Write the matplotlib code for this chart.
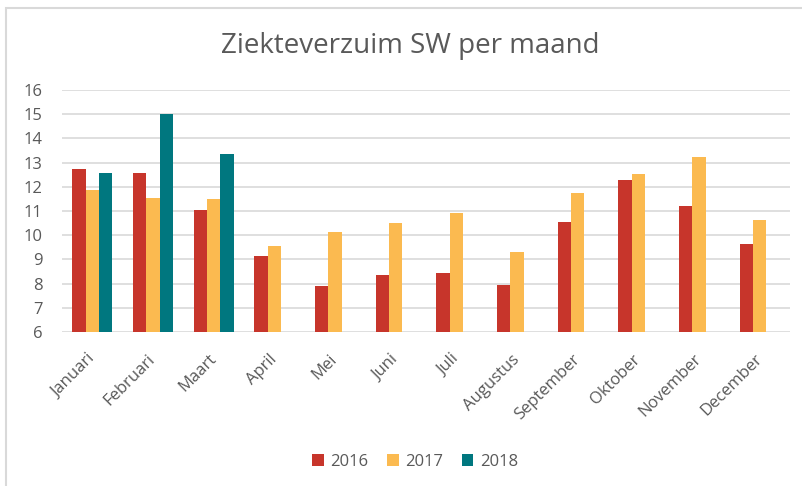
import numpy as np
import matplotlib.pyplot as plt
from matplotlib.patches import Rectangle

# data
maanden = ["Januari", "Februari", "Maart", "April", "Mei", "Juni", "Juli",
           "Augustus", "September", "Oktober", "November", "December"]
jaren = ["2016", "2017", "2018"]
v2016 = [12.74, 12.56, 11.05, 9.13, 7.91, 8.37, 8.45, 7.96, 10.55, 12.29, 11.21, 9.65]
v2017 = [11.85, 11.53, 11.49, 9.57, 10.11, 10.5, 10.9, 9.29, 11.74, 12.54, 13.22, 10.63]
v2018 = [12.56, 15.02, 13.36]

kleuren = ["#C7352B", "#FBBA50", "#00777F"]
grijs = "#595959"

plt.rcParams['font.family'] = ['Open Sans', 'DejaVu Sans']

fig = plt.figure(figsize=(8.03, 4.86), dpi=100)
ax = fig.add_axes([0.0772, 0.317, 0.9068, 0.498])

x = np.arange(len(maanden))
w = 0.22
ax.bar(x - w, v2016, w, color=kleuren[0], label=jaren[0], zorder=3)
ax.bar(x, v2017, w, color=kleuren[1], label=jaren[1], zorder=3)
ax.bar(x[:len(v2018)] + w, v2018, w, color=kleuren[2], label=jaren[2], zorder=3)

ax.set_ylim(6, 16)
ax.set_yticks(range(6, 17))
ax.set_xlim(-0.5, len(maanden) - 0.5)
ax.set_xticks(x)
ax.set_xticklabels(maanden, rotation=45, ha="right", va="center", rotation_mode="anchor")
ax.tick_params(axis="both", length=0, labelsize=12, labelcolor=grijs)
ax.tick_params(axis="x", pad=18)
ax.tick_params(axis="y", pad=14)
ax.grid(axis="y", color="#D9D9D9", linewidth=1.2, zorder=0)
for s in ax.spines.values():
    s.set_visible(False)

fig.text(0.511, 0.905, "Ziekteverzuim SW per maand", ha="center", va="center",
         fontsize=20, color=grijs)

leg = fig.legend(loc="center", bbox_to_anchor=(0.517, 0.050), ncol=3, frameon=False,
                 fontsize=12, handlelength=0.7, handleheight=0.7, handletextpad=0.4,
                 columnspacing=1.1)
for t in leg.get_texts():
    t.set_color(grijs)

# kader rond de grafiek
fig.patches.append(Rectangle((6.5 / 803, -0.1), 1.2, 1 - 8.5 / 486 + 0.1,
                             transform=fig.transFigure, fill=False,
                             edgecolor="#D9D9D9", linewidth=1.5))

fig.savefig("out.png", dpi=100)
